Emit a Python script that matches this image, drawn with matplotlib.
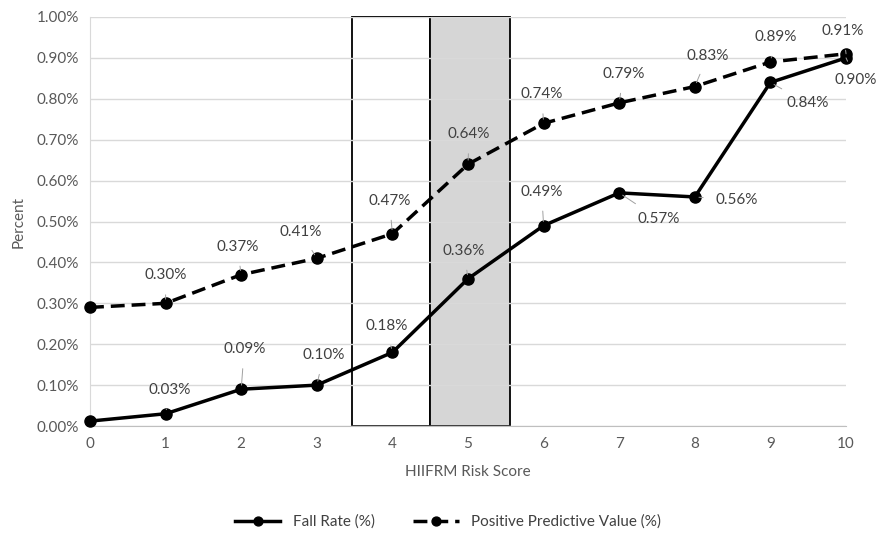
import matplotlib
matplotlib.use("Agg")
import matplotlib.pyplot as plt
from matplotlib.patches import Rectangle
from matplotlib.ticker import FuncFormatter

plt.rcParams['font.family'] = ['Lato', 'DejaVu Sans']

# data
scores = [0, 1, 2, 3, 4, 5, 6, 7, 8, 9, 10]
fall_rate = [0.012, 0.03, 0.09, 0.10, 0.18, 0.36, 0.49, 0.57, 0.56, 0.84, 0.90]
ppv = [0.29, 0.30, 0.37, 0.41, 0.47, 0.64, 0.74, 0.79, 0.83, 0.89, 0.91]
fall_labels = [None, "0.03%", "0.09%", "0.10%", "0.18%", "0.36%", "0.49%",
               "0.57%", "0.56%", "0.84%", "0.90%"]
ppv_labels = [None, "0.30%", "0.37%", "0.41%", "0.47%", "0.64%", "0.74%",
              "0.79%", "0.83%", "0.89%", "0.91%"]

# label offsets in pixels
fall_off = [(0, 0), (4, 24), (3, 40), (7, 30), (-6, 26), (-4, 28), (-2, 34),
            (39, -26), (42, -3), (37, -21), (10, -22)]
ppv_off = [(0, 0), (0, 28), (-4, 28), (-16, 26), (-3, 33), (1, 30), (-2, 29),
           (4, 29), (13, 31), (5, 25), (-3, 23)]

fig = plt.figure(figsize=(8.78, 5.39), dpi=100)
ax = fig.add_axes([0.1025, 0.2096, 0.8611, 0.7589])

# highlighted score boxes
ax.add_patch(Rectangle((3.47, 0), 1.03, 1.0, facecolor='white',
                       edgecolor='black', lw=1.3, zorder=0.3, clip_on=False))
ax.add_patch(Rectangle((4.5, 0), 1.06, 1.0, facecolor='#d6d6d6',
                       edgecolor='black', lw=1.3, zorder=0.3, clip_on=False))

ax.plot(scores, fall_rate, color='black', lw=2.5, marker='o', ms=8,
        label='Fall Rate (%)', zorder=3, clip_on=False)
ax.plot(scores, ppv, color='black', lw=2.5, ls=(0, (4, 2)), marker='o', ms=8,
        label='Positive Predictive Value (%)', zorder=3, clip_on=False)

for x, y, lab, off in zip(scores, fall_rate, fall_labels, fall_off):
    if lab:
        ax.annotate(lab, (x, y), xytext=off, textcoords='offset pixels',
                    ha='center', va='center', fontsize=11, color='#404040',
                    arrowprops=dict(arrowstyle='-', color='#a0a0a0', lw=0.7,
                                    shrinkA=7, shrinkB=3))
for x, y, lab, off in zip(scores, ppv, ppv_labels, ppv_off):
    if lab:
        ax.annotate(lab, (x, y), xytext=off, textcoords='offset pixels',
                    ha='center', va='center', fontsize=11, color='#404040',
                    arrowprops=dict(arrowstyle='-', color='#a0a0a0', lw=0.7,
                                    shrinkA=7, shrinkB=3))

ax.set_xlim(0, 10)
ax.set_ylim(0, 1.0)
ax.set_xticks(scores)
ax.set_yticks([i / 10 for i in range(11)])
ax.yaxis.set_major_formatter(FuncFormatter(lambda v, p: f"{v:.2f}%"))
ax.tick_params(length=0, labelsize=11, colors='#595959', pad=8)
ax.grid(axis='y', color='#d9d9d9', lw=1)
ax.set_axisbelow(True)
for s in ['top', 'right']:
    ax.spines[s].set_visible(False)
ax.spines['left'].set_color('#d9d9d9')
ax.spines['bottom'].set_color('#bfbfbf')

ax.set_xlabel("HIIFRM Risk Score", fontsize=11, color='#595959', labelpad=10)
ax.set_ylabel("Percent", fontsize=11, color='#595959', labelpad=8)

fig.legend(loc='center', bbox_to_anchor=(0.51, 0.032), ncol=2, frameon=False,
           fontsize=11, handlelength=3, columnspacing=2.5, markerscale=0.8,
           labelcolor='#404040')

fig.savefig("out.png", dpi=100)
